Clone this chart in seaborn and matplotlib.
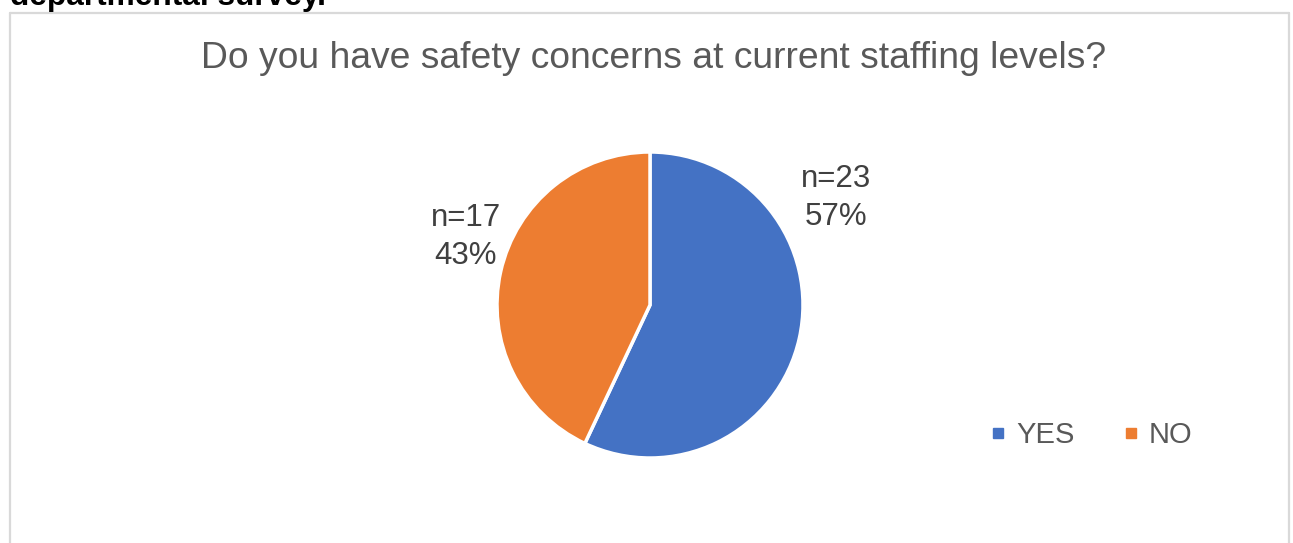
import matplotlib
matplotlib.use("Agg")
import matplotlib.pyplot as plt
from matplotlib.lines import Line2D
import seaborn as sns

answers = ["YES", "NO"]
counts = [23, 17]
percents = [57, 43]
slice_colors = ["#4472C4", "#ED7D31"]
chart_title = "Do you have safety concerns at current staffing levels?"
heading = "departmental survey."

sns.set_style("white")
plt.rcParams["font.family"] = ["Liberation Sans", "DejaVu Sans"]

W, H = 1293, 543
fig = plt.figure(figsize=(W / 100, H / 100), dpi=100)

# chart frame (open at the bottom, like the cropped screenshot)
frame = "#D9D9D9"
top = 1 - 12.5 / H
fig.add_artist(Line2D([10 / W, 10 / W], [0, top], color=frame, lw=1.6))
fig.add_artist(Line2D([10 / W, 1289 / W], [top, top], color=frame, lw=1.6))
fig.add_artist(Line2D([1289 / W, 1289 / W], [top, 0], color=frame, lw=1.6))

# cut-off heading above the chart
fig.text(10 / W, 1 - 5 / H, heading, fontsize=22.8, fontweight="bold",
         color="black", ha="left", va="baseline")

fig.text(654 / W, 1 - 68 / H, chart_title, fontsize=26.8, color="#595959",
         ha="center", va="baseline")

cx, cy, r = 650, 305, 153
ax = fig.add_axes([(cx - r) / W, (H - cy - r) / H, 2 * r / W, 2 * r / H])
wedges, _ = ax.pie(percents, colors=slice_colors, startangle=90, counterclock=False,
                   wedgeprops=dict(edgecolor="white", linewidth=2.5))
ax.set_xlim(-1, 1)
ax.set_ylim(-1, 1)
ax.set_aspect("equal")
ax.axis("off")

label_pos = [(1.214, 0.70), (-1.203, 0.445)]
for n, p, (lx, ly) in zip(counts, percents, label_pos):
    ax.text(lx, ly, f"n={n}\n{p}%", fontsize=22.5,
            color="#404040", ha="center", va="center", linespacing=1.32,
            clip_on=False)

handles = [Line2D([], [], marker="s", linestyle="", markersize=7,
                  markerfacecolor=c, markeredgecolor=c) for c in slice_colors]
fig.legend(handles, answers, loc="center", bbox_to_anchor=(1091 / W, 1 - 435 / H),
           ncol=2, frameon=False, fontsize=21, handlelength=0.6, handletextpad=0.3,
           columnspacing=1.65, labelcolor="#595959")

fig.savefig("out.png", dpi=100)
